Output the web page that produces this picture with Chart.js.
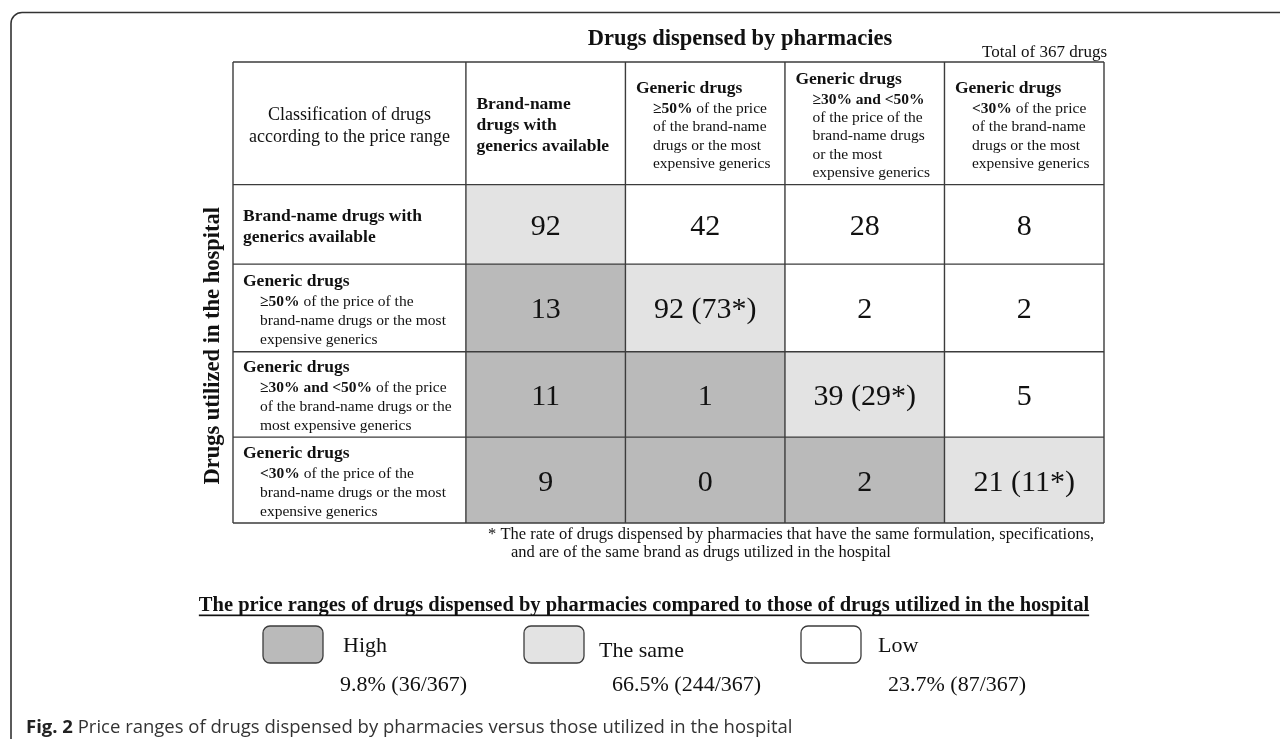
<!DOCTYPE html>
<html>
<head>
<meta charset="utf-8">
<script src="https://cdn.jsdelivr.net/npm/chart.js@4.4.1/dist/chart.umd.min.js"></script>
<style>
  html, body { margin: 0; background: #fff; }
  canvas { display: block; }
</style>
</head>
<body>
<canvas id="chart" width="1280" height="739"></canvas>
<script>
"use strict";

// ---- data -----------------------------------------------------------------
// "**...**" marks bold runs inside a line.

const title = "Drugs dispensed by pharmacies";
const totalNote = "Total of 367 drugs";
const rowAxisTitle = "Drugs utilized in the hospital";
const cornerLabel = ["Classification of drugs", "according to the price range"];

// columns: drugs dispensed by pharmacies
const pharmacyCols = [
  ["**Brand-name**", "**drugs with**", "**generics available**"],
  ["**Generic drugs**", "**≥50%** of the price", "of the brand-name", "drugs or the most", "expensive generics"],
  ["**Generic drugs**", "**≥30% and <50%**", "of the price of the", "brand-name drugs", "or the most", "expensive generics"],
  ["**Generic drugs**", "**<30%** of the price", "of the brand-name", "drugs or the most", "expensive generics"],
];

// rows: drugs utilized in the hospital
const hospitalRows = [
  ["**Brand-name drugs with**", "**generics available**"],
  ["**Generic drugs**", "**≥50%** of the price of the", "brand-name drugs or the most", "expensive generics"],
  ["**Generic drugs**", "**≥30% and <50%** of the price", "of the brand-name drugs or the", "most expensive generics"],
  ["**Generic drugs**", "**<30%** of the price of the", "brand-name drugs or the most", "expensive generics"],
];

// counts[row][col]
const counts = [
  [92, 42, 28, 8],
  [13, 92, 2, 2],
  [11, 1, 39, 5],
  [9, 0, 2, 21],
];

// same formulation / specification / brand (the starred numbers)
const sameBrand = [
  [null, null, null, null],
  [null, 73, null, null],
  [null, null, 29, null],
  [null, null, null, 11],
];

const footnote = [
  "* The rate of drugs dispensed by pharmacies that have the same formulation, specifications,",
  "and are of the same brand as drugs utilized in the hospital",
];

const legendTitle = "The price ranges of drugs dispensed by pharmacies compared to those of drugs utilized in the hospital";
const legendLabels = ["High", "The same", "Low"];
const legendShares = ["9.8% (36/367)", "66.5% (244/367)", "23.7% (87/367)"];

const captionBold = "Fig. 2";
const captionText = " Price ranges of drugs dispensed by pharmacies versus those utilized in the hospital";

// ---- layout / style -------------------------------------------------------

const SERIF = '"Liberation Serif", "Times New Roman", serif';
const SANS = '"Open Sans", "Noto Sans", sans-serif';
const LINE = "#3c3c3c";
const FILL = { High: "#bababa", "The same": "#e3e3e3", Low: "#ffffff" };

// scale units: data column j spans [j, j+1]; label column and header sit below 0
const colEdges = [-1.46, 0, 1, 2, 3, 4];
const rowEdges = [-1.45, 0, 0.94, 1.975, 2.985, 4];

function priceClass(i, j) {
  if (j < i) return "High";
  if (j === i) return "The same";
  return "Low";
}

function parseRuns(line) {
  return line.split("**").map((t, k) => ({ text: t, bold: k % 2 === 1 })).filter((r) => r.text);
}

function drawRuns(ctx, line, x, y, size, align) {
  const runs = parseRuns(line);
  const font = (b) => `${b ? "bold " : ""}${size}px ${SERIF}`;
  let total = 0;
  for (const r of runs) { ctx.font = font(r.bold); total += ctx.measureText(r.text).width; }
  let cx = align === "center" ? x - total / 2 : x;
  ctx.textAlign = "left";
  for (const r of runs) {
    ctx.font = font(r.bold);
    ctx.fillText(r.text, cx, y);
    cx += ctx.measureText(r.text).width;
  }
}

// lays out a block of label lines centred on a vertical position
function drawBlock(ctx, lines, left, centerY, smallGap) {
  const generic = lines[0].startsWith("**Generic");
  const sizes = lines.map((_, k) => (generic && k > 0 ? 15.5 : 17.5));
  const offs = [0];
  for (let k = 1; k < lines.length; k++) {
    const gap = sizes[k] === 17.5 ? 21 : sizes[k - 1] === 17.5 ? 20 : smallGap;
    offs.push(offs[k - 1] + gap);
  }
  const first = centerY + 7 - offs[offs.length - 1] / 2;
  lines.forEach((ln, k) => {
    const indent = generic && k > 0 ? 17 : 0;
    drawRuns(ctx, ln, left + indent, first + offs[k], sizes[k], "left");
  });
}

function roundRect(ctx, x, y, w, h, r) {
  ctx.beginPath();
  ctx.moveTo(x + r, y);
  ctx.arcTo(x + w, y, x + w, y + h, r);
  ctx.arcTo(x + w, y + h, x, y + h, r);
  ctx.arcTo(x, y + h, x, y, r);
  ctx.arcTo(x, y, x + w, y, r);
  ctx.closePath();
}

const tablePlugin = {
  id: "priceTable",
  beforeDatasetsDraw(chart) {
    const { ctx, scales } = chart;
    const X = colEdges.map((v) => scales.x.getPixelForValue(v));
    const Y = rowEdges.map((v) => scales.y.getPixelForValue(v));
    ctx.save();

    // cell fills
    counts.forEach((row, i) => row.forEach((_, j) => {
      ctx.fillStyle = FILL[priceClass(i, j)];
      ctx.fillRect(X[j + 1], Y[i + 1], X[j + 2] - X[j + 1], Y[i + 2] - Y[i + 1]);
    }));

    // grid
    ctx.strokeStyle = LINE;
    ctx.lineWidth = 1.4;
    ctx.beginPath();
    for (const x of X) { ctx.moveTo(x, Y[0]); ctx.lineTo(x, Y[Y.length - 1]); }
    for (const y of Y) { ctx.moveTo(X[0], y); ctx.lineTo(X[X.length - 1], y); }
    ctx.stroke();

    ctx.fillStyle = "#111";
    ctx.textBaseline = "alphabetic";

    // corner header
    const cx0 = (X[0] + X[1]) / 2;
    const cy0 = (Y[0] + Y[1]) / 2;
    ctx.font = `18px ${SERIF}`;
    ctx.textAlign = "center";
    ctx.fillText(cornerLabel[0], cx0, cy0 - 3);
    ctx.fillText(cornerLabel[1], cx0, cy0 + 19);

    // column headers
    pharmacyCols.forEach((lines, j) => {
      drawBlock(ctx, lines, X[j + 1] + 10.5, cy0, 18.4);
    });

    // row headers
    hospitalRows.forEach((lines, i) => {
      drawBlock(ctx, lines, X[0] + 10, (Y[i + 1] + Y[i + 2]) / 2, 19);
    });

    // counts
    ctx.font = `30px ${SERIF}`;
    ctx.textAlign = "center";
    counts.forEach((row, i) => row.forEach((v, j) => {
      const s = sameBrand[i][j] == null ? `${v}` : `${v} (${sameBrand[i][j]}*)`;
      ctx.fillText(s, (X[j + 1] + X[j + 2]) / 2, (Y[i + 1] + Y[i + 2]) / 2 + 10.5);
    }));

    // titles
    ctx.font = `bold 22.5px ${SERIF}`;
    ctx.fillText(title, 740, 45);
    ctx.font = `17px ${SERIF}`;
    ctx.textAlign = "right";
    ctx.fillText(totalNote, X[X.length - 1] + 3, 57);

    ctx.save();
    ctx.translate(213, (Y[1] + Y[Y.length - 1]) / 2 - 8);
    ctx.rotate(-Math.PI / 2);
    ctx.font = `bold 22.5px ${SERIF}`;
    ctx.textAlign = "center";
    ctx.textBaseline = "middle";
    ctx.fillText(rowAxisTitle, 0, 0);
    ctx.restore();

    // footnote
    const yb = Y[Y.length - 1];
    ctx.font = `16.5px ${SERIF}`;
    ctx.textAlign = "left";
    ctx.fillText(footnote[0], 488, yb + 16);
    ctx.fillText(footnote[1], 511, yb + 34);

    // legend
    ctx.font = `bold 20.5px ${SERIF}`;
    ctx.textAlign = "center";
    ctx.fillText(legendTitle, 644, 611);
    const lw = ctx.measureText(legendTitle).width;
    ctx.fillRect(644 - lw / 2, 614.5, lw, 1.7);

    const boxX = [263, 524, 801];
    const labelX = [343, 599, 878];
    const labelY = [652, 657, 652];
    const shareX = [340, 612, 888];
    legendLabels.forEach((lab, k) => {
      roundRect(ctx, boxX[k], 626, 60, 37, 7);
      ctx.fillStyle = FILL[lab];
      ctx.fill();
      ctx.strokeStyle = LINE;
      ctx.lineWidth = 1.3;
      ctx.stroke();
      ctx.fillStyle = "#111";
      ctx.font = `22px ${SERIF}`;
      ctx.textAlign = "left";
      ctx.fillText(lab, labelX[k], labelY[k]);
      ctx.fillText(legendShares[k], shareX[k], 691);
    });

    // outer frame
    ctx.strokeStyle = "#333";
    ctx.lineWidth = 1.6;
    ctx.beginPath();
    ctx.moveTo(11, 745);
    ctx.lineTo(11, 24);
    ctx.arcTo(11, 12.5, 23, 12.5, 11);
    ctx.lineTo(1285, 12.5);
    ctx.stroke();

    // caption
    ctx.fillStyle = "#222";
    ctx.font = `bold 18.5px ${SANS}`;
    ctx.fillText(captionBold, 26, 733);
    const bw = ctx.measureText(captionBold).width;
    ctx.fillStyle = "#333";
    ctx.font = `18.5px ${SANS}`;
    ctx.fillText(captionText, 26 + bw, 733);

    ctx.restore();
  },
};

// one invisible point per cell, so the chart carries the matrix values
const cellPoints = counts.flatMap((row, i) => row.map((v, j) => ({ x: j + 0.5, y: (rowEdges[i + 1] + rowEdges[i + 2]) / 2, v })));

new Chart(document.getElementById("chart"), {
  type: "scatter",
  data: { datasets: [{ data: cellPoints, pointRadius: 0, pointHoverRadius: 0 }] },
  options: {
    responsive: false,
    devicePixelRatio: 1,
    animation: false,
    layout: { padding: { left: 233, top: 62, right: 176, bottom: 216 } },
    plugins: { legend: { display: false }, tooltip: { enabled: false } },
    scales: {
      x: { type: "linear", min: colEdges[0], max: colEdges[colEdges.length - 1], display: false },
      y: { type: "linear", min: rowEdges[0], max: rowEdges[rowEdges.length - 1], reverse: true, display: false },
    },
  },
  plugins: [tablePlugin],
});
</script>
</body>
</html>
